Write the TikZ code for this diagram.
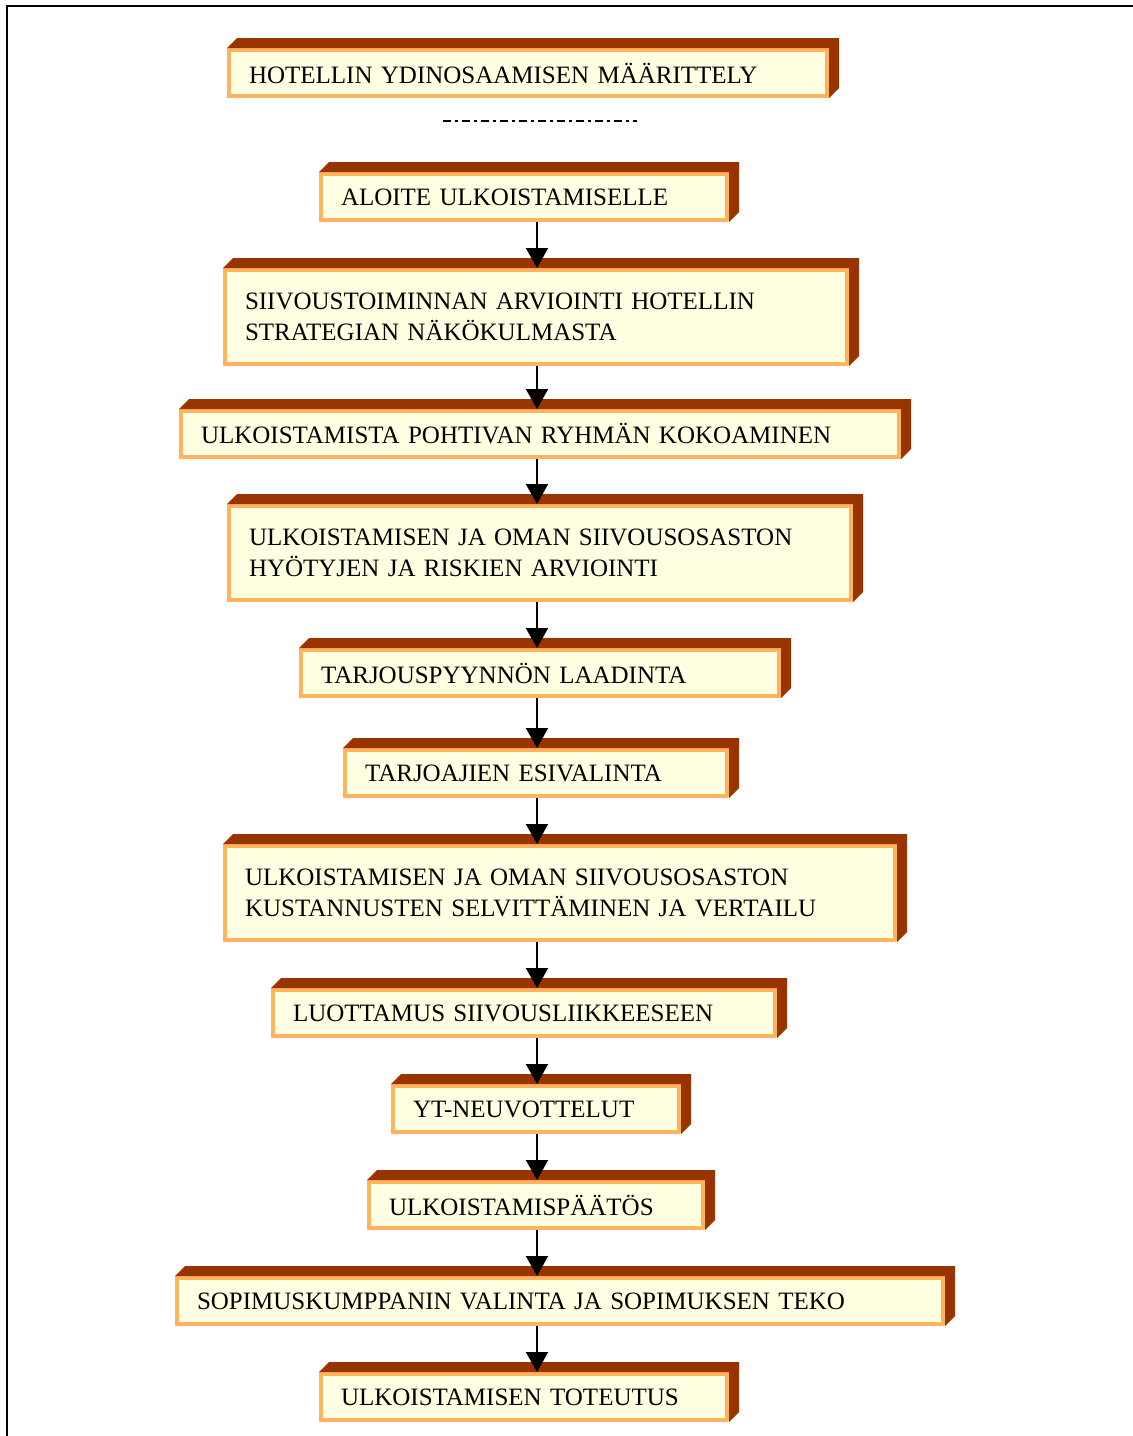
\documentclass[tikz,border=0pt]{standalone}
\usepackage{fontspec}
\setmainfont{Liberation Serif}
\usepackage{tikz}
\usetikzlibrary{arrows.meta}
\usepackage{xcolor}
\definecolor{boxfill}{HTML}{FFFFE1}
\definecolor{boxedge}{HTML}{FFB35F}
\definecolor{boxside}{HTML}{993300}

\begin{document}
\begin{tikzpicture}[x=1pt, y=1pt,
  box/.style={draw=boxedge, fill=boxfill, line width=4pt, inner xsep=20pt,
    inner ysep=0pt, align=left, font=\fontsize{25}{31}\selectfont},
  flow/.style={line width=2pt, -{Triangle[length=20pt, width=22pt]}}]

\useasboundingbox (0,0) rectangle (1133,-1436);

% --- frame ---
\draw[line width=2.5pt] (1140,-6) -- (7,-6) -- (7,-1440);

% --- boxes ---
\node[box, minimum width=598pt, minimum height=46pt, text width=558pt] (b1) at (528,-73)
  {HOTELLIN YDINOSAAMISEN MÄÄRITTELY};
\node[box, minimum width=406pt, minimum height=46pt, text width=366pt] (b2) at (524,-197)
  {ALOITE ULKOISTAMISELLE};
\node[box, minimum width=622pt, minimum height=94pt, text width=582pt] (b3) at (536,-317)
  {SIIVOUSTOIMINNAN ARVIOINTI HOTELLIN\\STRATEGIAN NÄKÖKULMASTA};
\node[box, minimum width=718pt, minimum height=46pt, text width=678pt] (b4) at (540,-434)
  {ULKOISTAMISTA POHTIVAN RYHMÄN KOKOAMINEN};
\node[box, minimum width=622pt, minimum height=94pt, text width=582pt] (b5) at (540,-553)
  {ULKOISTAMISEN JA OMAN SIIVOUSOSASTON\\HYÖTYJEN JA RISKIEN ARVIOINTI};
\node[box, minimum width=478pt, minimum height=46pt, text width=438pt] (b6) at (540,-673)
  {TARJOUSPYYNNÖN LAADINTA};
\node[box, minimum width=382pt, minimum height=46pt, text width=342pt] (b7) at (536,-773)
  {TARJOAJIEN ESIVALINTA};
\node[box, minimum width=670pt, minimum height=94pt, text width=630pt] (b8) at (560,-893)
  {ULKOISTAMISEN JA OMAN SIIVOUSOSASTON\\KUSTANNUSTEN SELVITTÄMINEN JA VERTAILU};
\node[box, minimum width=502pt, minimum height=46pt, text width=462pt] (b9) at (524,-1013)
  {LUOTTAMUS SIIVOUSLIIKKEESEEN};
\node[box, minimum width=286pt, minimum height=46pt, text width=246pt] (b10) at (536,-1109)
  {YT-NEUVOTTELUT};
\node[box, minimum width=334pt, minimum height=46pt, text width=294pt] (b11) at (536,-1205)
  {ULKOISTAMISPÄÄTÖS};
\node[box, minimum width=766pt, minimum height=46pt, text width=726pt] (b12) at (560,-1301)
  {SOPIMUSKUMPPANIN VALINTA JA SOPIMUKSEN TEKO};
\node[box, minimum width=406pt, minimum height=46pt, text width=366pt] (b13) at (524,-1397)
  {ULKOISTAMISEN TOTEUTUS};

% --- 3d top and side ---
\foreach \b in {b1,b2,b3,b4,b5,b6,b7,b8,b9,b10,b11,b12,b13}
  \fill[boxside] (\b.north west) -- ++(10,10) -- ([shift={(10,10)}]\b.north east)
    -- ([shift={(10,10)}]\b.south east) -- (\b.south east) -- (\b.north east) -- cycle;

% --- dash-dot line under the first box ---
\coordinate (d1) at (443,-121);
\coordinate (d2) at (637,-121);
\draw[line width=2pt, dash pattern=on 8pt off 4pt on 3pt off 4pt] (d1) -- (d2);

% --- arrows ---
\coordinate (spine) at (537,0);
\foreach \a/\c in {b2/b3,b3/b4,b4/b5,b5/b6,b6/b7,b7/b8,b8/b9,b9/b10,b10/b11,b11/b12,b12/b13}
  \draw[flow] (\a.south -| spine) -- (\c.north -| spine);

\end{tikzpicture}
\end{document}
